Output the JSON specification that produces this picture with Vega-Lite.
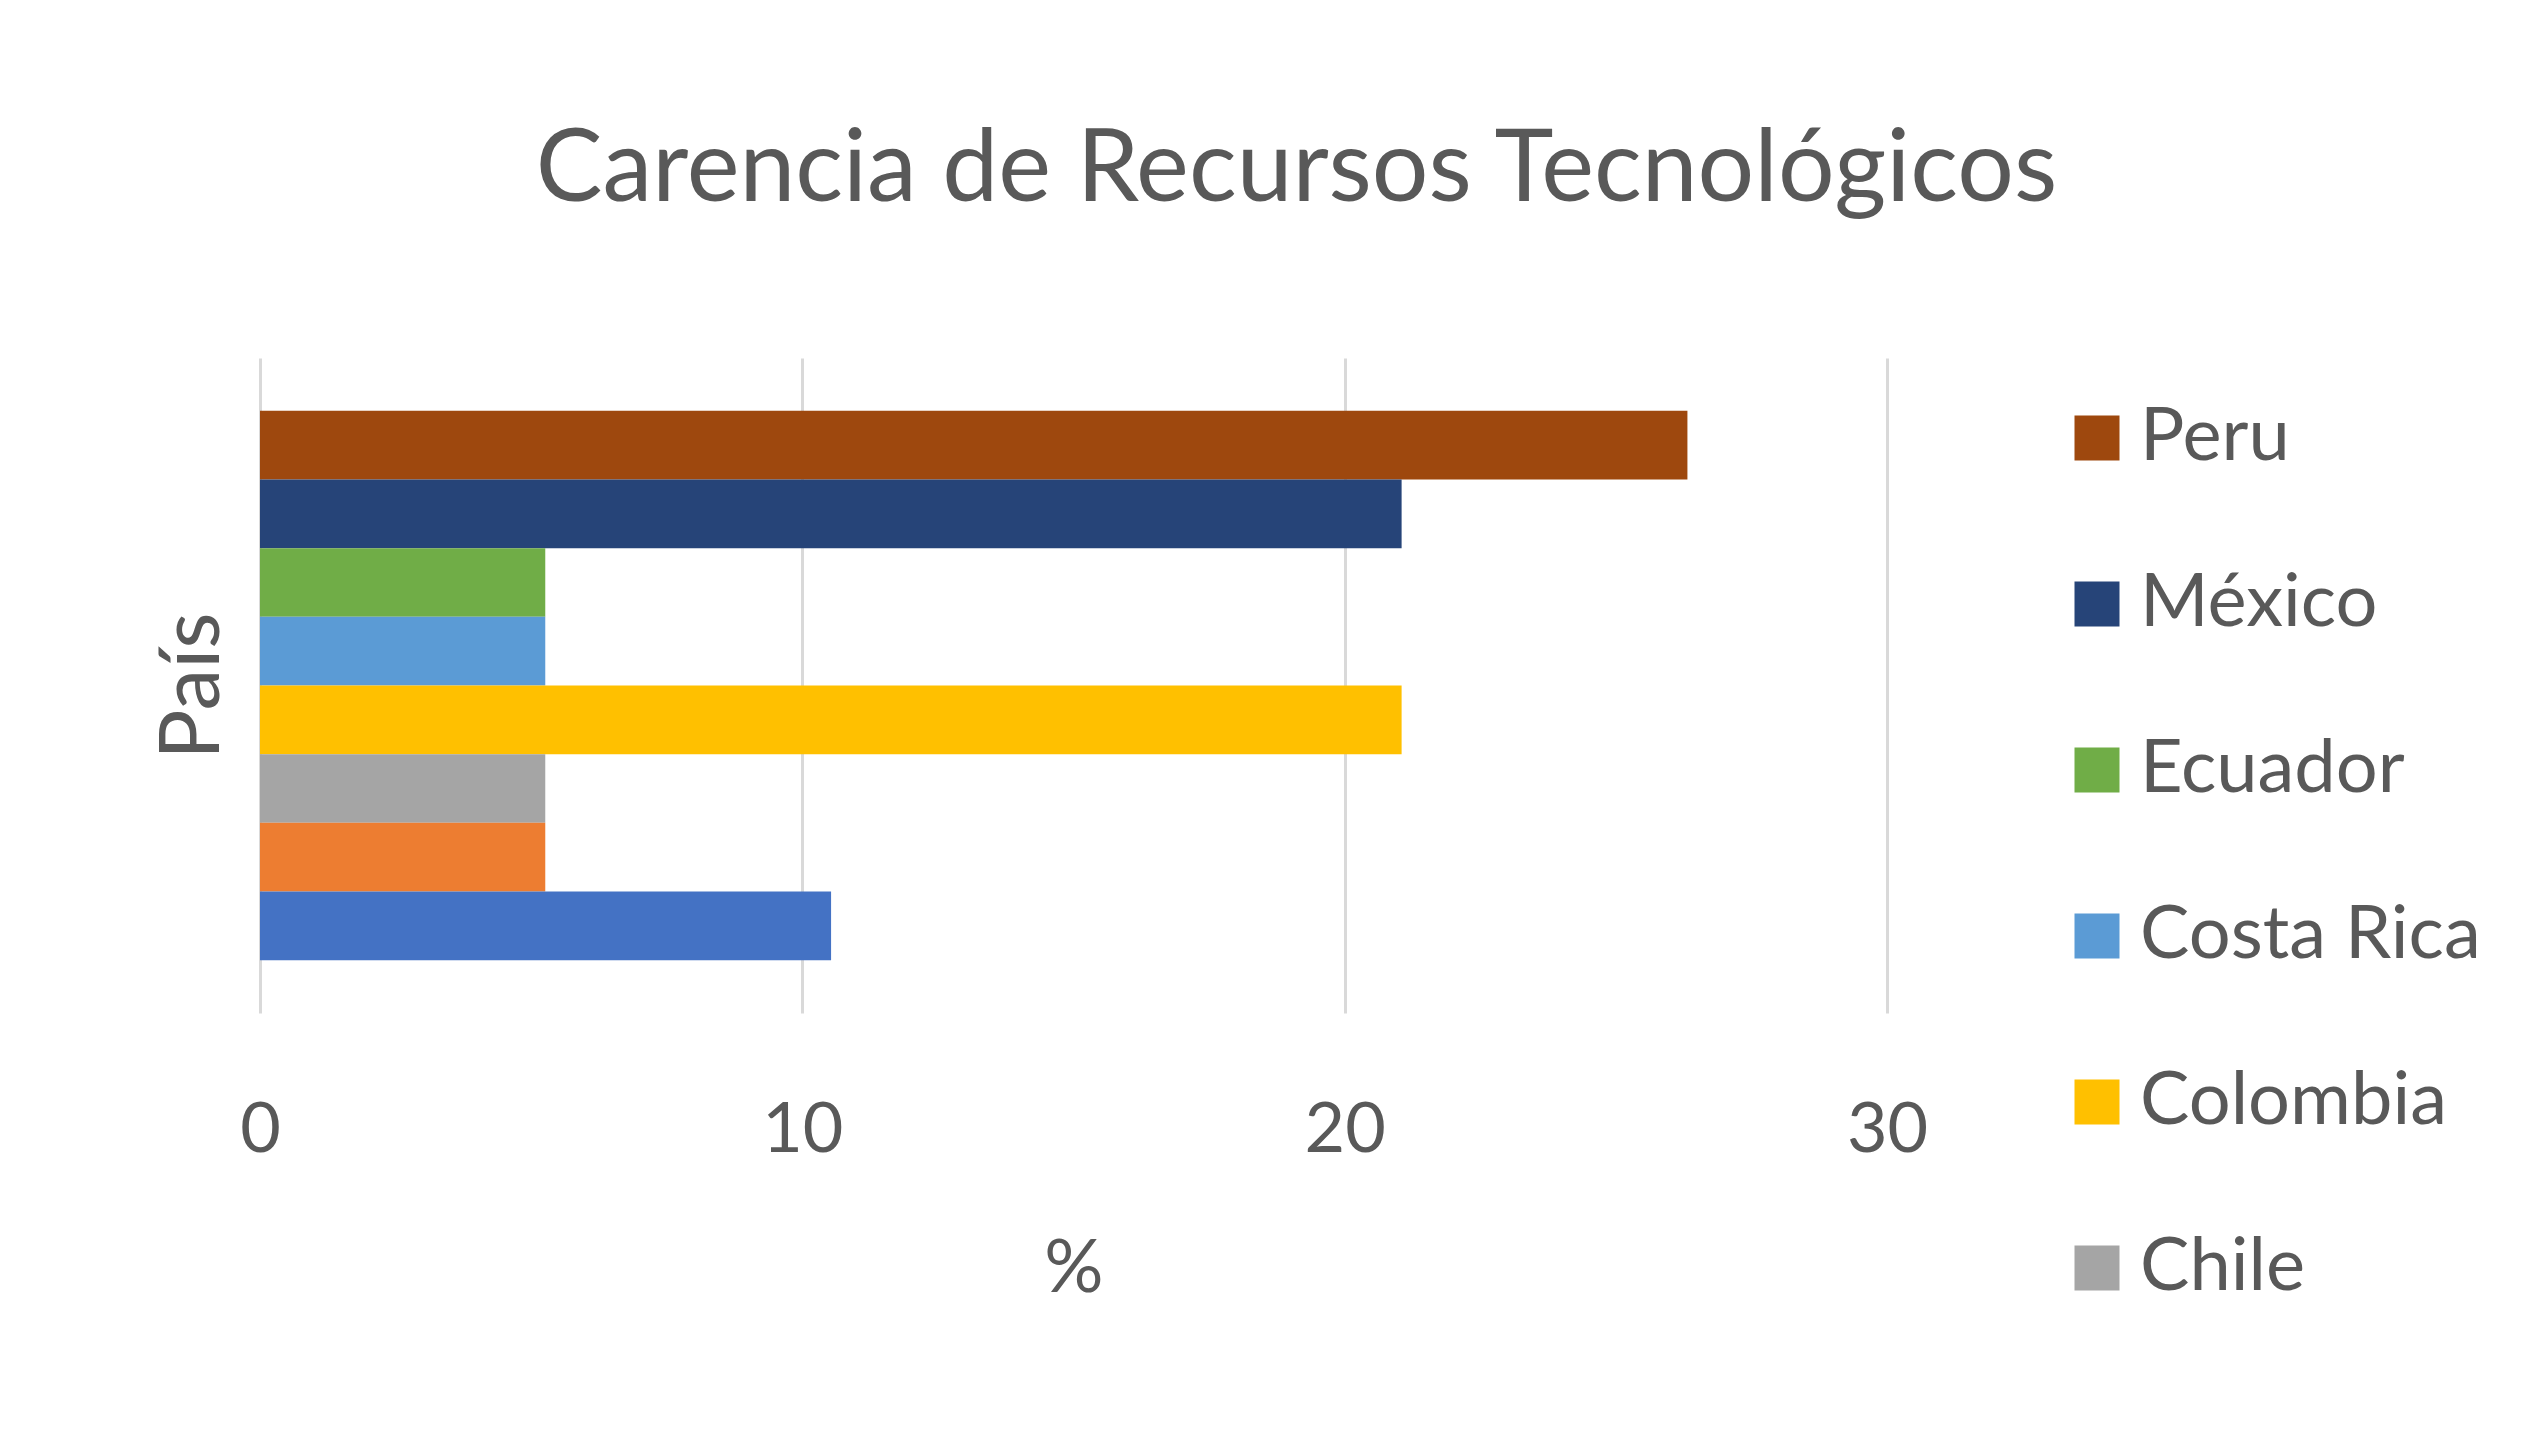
{
  "$schema": "https://vega.github.io/schema/vega-lite/v6.json",
  "autosize": {"type": "none"},
  "width": 1627,
  "height": 655,
  "padding": {"left": 260, "top": 358, "right": 654, "bottom": 430},
  "background": "white",
  "config": {"view": {"stroke": null}},
  "title": {
    "text": "Carencia de Recursos Tecnológicos",
    "font": "Lato",
    "fontSize": 100,
    "fontWeight": "normal",
    "color": "#595959",
    "anchor": "middle",
    "baseline": "alphabetic",
    "dx": 223,
    "offset": 57
  },
  "data": {
    "values": [
      {"pais": "Peru", "pct": 26.32},
      {"pais": "México", "pct": 21.05},
      {"pais": "Ecuador", "pct": 5.26},
      {"pais": "Costa Rica", "pct": 5.26},
      {"pais": "Colombia", "pct": 21.05},
      {"pais": "Chile", "pct": 5.26},
      {"pais": "Brasil", "pct": 5.26},
      {"pais": "Argentina", "pct": 10.53}
    ]
  },
  "mark": {"type": "bar"},
  "encoding": {
    "y": {
      "field": "pais",
      "type": "nominal",
      "sort": ["Peru", "México", "Ecuador", "Costa Rica", "Colombia", "Chile", "Brasil", "Argentina"],
      "scale": {"paddingInner": 0, "paddingOuter": 0.77},
      "axis": {
        "labels": false,
        "ticks": false,
        "domain": false,
        "title": "País",
        "titleFont": "Lato",
        "titleFontSize": 84,
        "titleFontWeight": "normal",
        "titleColor": "#595959",
        "titlePadding": 24
      }
    },
    "x": {
      "field": "pct",
      "type": "quantitative",
      "scale": {"domain": [0, 30], "nice": false},
      "axis": {
        "values": [0, 10, 20, 30],
        "grid": true,
        "gridColor": "#d9d9d9",
        "gridWidth": 3,
        "ticks": false,
        "domain": false,
        "labelFlush": false,
        "labelFont": "Lato",
        "labelFontSize": 70,
        "labelColor": "#595959",
        "labelPadding": 83,
        "title": "%",
        "titleFont": "Lato",
        "titleFontSize": 74,
        "titleFontWeight": "normal",
        "titleColor": "#595959",
        "titlePadding": 68
      }
    },
    "fill": {
      "field": "pais",
      "type": "nominal",
      "scale": {
        "domain": ["Peru", "México", "Ecuador", "Costa Rica", "Colombia", "Chile", "Brasil", "Argentina"],
        "range": ["#9E480E", "#264478", "#70AD47", "#5B9BD5", "#FFC000", "#A5A5A5", "#ED7D31", "#4472C4"]
      },
      "legend": {
        "values": ["Peru", "México", "Ecuador", "Costa Rica", "Colombia", "Chile"],
        "orient": "none",
        "legendX": 1800,
        "legendY": 43,
        "title": null,
        "padding": 0,
        "symbolType": "square",
        "symbolSize": 2025,
        "symbolStrokeWidth": 0,
        "symbolOpacity": 1,
        "labelFont": "Lato",
        "labelFontSize": 74,
        "labelColor": "#595959",
        "labelOffset": 6,
        "rowPadding": 92,
        "labelLimit": 600
      }
    }
  }
}
